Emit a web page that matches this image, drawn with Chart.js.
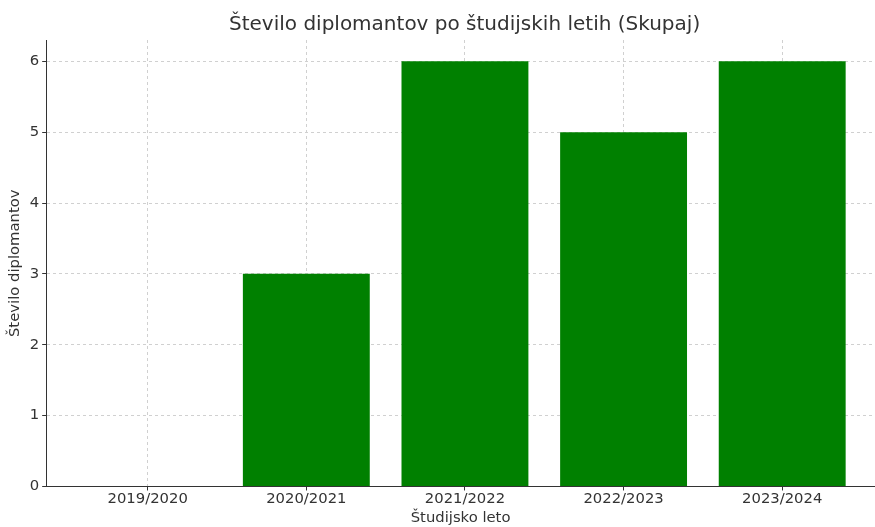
<!DOCTYPE html>
<html>
<head>
<meta charset="utf-8">
<script src="https://cdn.jsdelivr.net/npm/chart.js@4"></script>
<style>
  html, body { margin: 0; padding: 0; background: #fff; overflow: hidden; }
</style>
</head>
<body>
<canvas id="myChart" width="875" height="527"></canvas>
<script>
const years = ["2019/2020", "2020/2021", "2021/2022", "2022/2023", "2023/2024"];
const graduates = [0, 3, 6, 5, 6];
const yTicks = [0, 1, 2, 3, 4, 5, 6];
const chartTitle = "Število diplomantov po študijskih letih (Skupaj)";

const textColor = "#333333";
const gridColor = "#d0d0d0";
const font = { family: "DejaVu Sans", size: 14.8 };

// title centred over the plot area (like matplotlib), not over the canvas
const axesTitle = {
  id: "axesTitle",
  afterDraw(chart) {
    const { ctx, chartArea } = chart;
    ctx.save();
    ctx.fillStyle = textColor;
    ctx.font = "20px 'DejaVu Sans'";
    ctx.textAlign = "center";
    ctx.textBaseline = "middle";
    ctx.fillText(chartTitle, (chartArea.left + chartArea.right) / 2 + 4, 25);
    ctx.restore();
  }
};

const ctx = document.getElementById("myChart");
new Chart(ctx, {
  type: "bar",
  data: {
    datasets: [{
      data: graduates.map((v, i) => ({ x: i, y: v })),
      backgroundColor: "#008000",
      borderWidth: 0,
      categoryPercentage: 1,
      barPercentage: 0.8
    }]
  },
  options: {
    responsive: false,
    animation: false,
    devicePixelRatio: 1,
    layout: { padding: { left: 6, right: 0, top: 40, bottom: 0 } },
    plugins: {
      legend: { display: false },
      tooltip: { enabled: false },
      title: { display: false }
    },
    scales: {
      x: {
        type: "linear",
        min: -0.64,
        max: 4.585,
        offset: false,
        z: 1,
        afterBuildTicks: (scale) => { scale.ticks = years.map((_, i) => ({ value: i })); },
        ticks: {
          color: textColor,
          font: font,
          padding: 0,
          callback: (v) => years[v]
        },
        grid: {
          offset: false,
          color: gridColor,
          lineWidth: 1,
          tickColor: textColor,
          tickBorderDash: [],
          tickLength: 4
        },
        border: { color: textColor, width: 1, dash: [3, 3] },
        title: {
          display: true,
          text: "Študijsko leto",
          color: textColor,
          font: font,
          padding: { top: 1, bottom: 0 }
        }
      },
      y: {
        min: 0,
        max: 6.3,
        z: 1,
        afterBuildTicks: (scale) => { scale.ticks = yTicks.map(v => ({ value: v })); },
        ticks: { color: textColor, font: font, padding: 3 },
        grid: {
          color: gridColor,
          lineWidth: 1,
          tickColor: textColor,
          tickBorderDash: [],
          tickLength: 4
        },
        border: { color: textColor, width: 1, dash: [3, 3] },
        title: {
          display: true,
          text: "Število diplomantov",
          color: textColor,
          font: font,
          padding: { top: 0, bottom: 3 }
        }
      }
    }
  },
  plugins: [axesTitle]
});
</script>
</body>
</html>
